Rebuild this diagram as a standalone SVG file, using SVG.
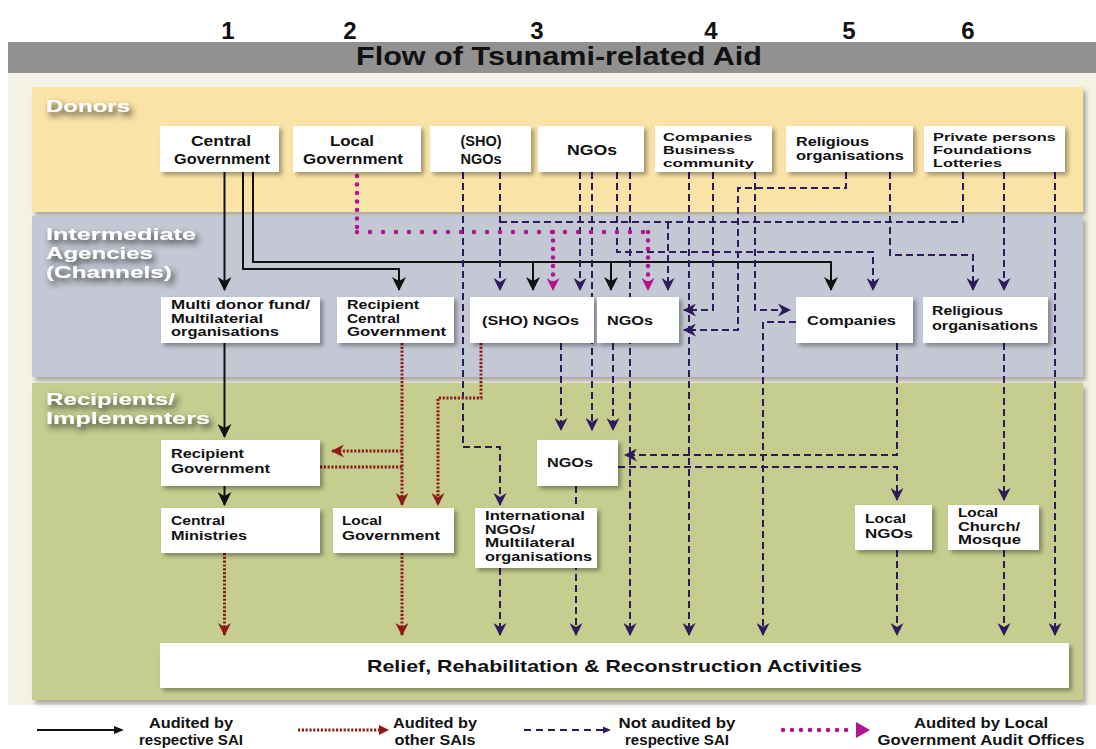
<svg xmlns="http://www.w3.org/2000/svg" width="1096" height="749" viewBox="0 0 1096 749">
<style>
.t{font-family:"Liberation Sans",Arial,sans-serif;font-weight:bold;fill:#111;}
.bx{font-size:12px;}
.bs{font-size:11.5px;}
.bl{font-family:"Liberation Sans",Arial,sans-serif;font-weight:bold;font-size:17px;fill:#fff;}
.box{fill:#fff;filter:url(#sh);}
.band{filter:url(#bsh);}
.cb{fill:none;stroke:#111;stroke-width:2;marker-end:url(#ahB);}
.cr{fill:none;stroke:#8c1c1c;stroke-width:3;stroke-dasharray:2.2 1.6;}
.cn{fill:none;stroke:#2e1a5c;stroke-width:2;stroke-dasharray:7 4;}
.cm{fill:none;stroke:#b0168c;stroke-width:4.5;stroke-linecap:round;}
.mh{stroke-dasharray:0 13;}
.mv{stroke-dasharray:0 8.5;}
.lg{font-family:"Liberation Sans",Arial,sans-serif;font-weight:bold;font-size:15px;fill:#111;text-anchor:middle;}
</style>
<defs>
<filter id="sh" x="-10%" y="-10%" width="130%" height="140%"><feDropShadow dx="3" dy="3" stdDeviation="2" flood-color="#000" flood-opacity="0.35"/></filter>
<filter id="bsh" x="-5%" y="-5%" width="110%" height="120%"><feDropShadow dx="3" dy="4" stdDeviation="2" flood-color="#000" flood-opacity="0.3"/></filter>
<filter id="tsh" x="-20%" y="-60%" width="150%" height="240%"><feDropShadow dx="3" dy="4" stdDeviation="3" flood-color="#222" flood-opacity="0.9"/></filter>
<marker id="ahB" viewBox="0 0 14 14" refX="13" refY="7" markerWidth="14" markerHeight="14" orient="auto" markerUnits="userSpaceOnUse"><path d="M0,0 L14,7 L0,14 L4,7 z" fill="#111"/></marker>
<marker id="ahN" viewBox="0 0 13 13" refX="12" refY="6.5" markerWidth="13" markerHeight="13" orient="auto" markerUnits="userSpaceOnUse"><path d="M0,0 L13,6.5 L0,13 L4,6.5 z" fill="#2e1a5c"/></marker>
<marker id="ahR" viewBox="0 0 13 13" refX="12" refY="6.5" markerWidth="13" markerHeight="13" orient="auto" markerUnits="userSpaceOnUse"><path d="M0,0 L13,6.5 L0,13 L4,6.5 z" fill="#8c1c1c"/></marker>
<marker id="ahM" viewBox="0 0 13 13" refX="12" refY="6.5" markerWidth="13" markerHeight="13" orient="auto" markerUnits="userSpaceOnUse"><path d="M0,0 L13,6.5 L0,13 L4,6.5 z" fill="#b0168c"/></marker>
</defs>

<!-- background -->
<rect x="0" y="0" width="1096" height="749" fill="#fff"/>
<rect x="8" y="73" width="1088" height="632" fill="#f4f1e5"/>
<rect x="8" y="42" width="1088" height="31" fill="#919191"/>
<g id="numbers">
<text class="t" x="228" y="39" font-size="24" text-anchor="middle">1</text>
<text class="t" x="350" y="39" font-size="24" text-anchor="middle">2</text>
<text class="t" x="537" y="39" font-size="24" text-anchor="middle">3</text>
<text class="t" x="711" y="39" font-size="24" text-anchor="middle">4</text>
<text class="t" x="849" y="39" font-size="24" text-anchor="middle">5</text>
<text class="t" x="968" y="39" font-size="24" text-anchor="middle">6</text>
</g>
<text id="title" class="t" x="356" y="65" font-size="25" textLength="406" lengthAdjust="spacingAndGlyphs">Flow of Tsunami-related Aid</text>

<!-- bands -->
<g id="bands">
<rect class="band" x="32" y="87" width="1051" height="125" fill="#fae3a7"/>
<rect class="band" x="32" y="216" width="1051" height="161" fill="#c4c8d5"/>
<rect class="band" x="32" y="383" width="1051" height="317" fill="#c5cd8f"/>
<g filter="url(#tsh)">
<text class="bl" x="46" y="112" textLength="84" lengthAdjust="spacingAndGlyphs">Donors</text>
<text class="bl" x="46" y="240" textLength="150" lengthAdjust="spacingAndGlyphs">Intermediate</text>
<text class="bl" x="46" y="259" textLength="107" lengthAdjust="spacingAndGlyphs">Agencies</text>
<text class="bl" x="46" y="278" textLength="126" lengthAdjust="spacingAndGlyphs">(Channels)</text>
<text class="bl" x="46" y="405" textLength="129" lengthAdjust="spacingAndGlyphs">Recipients/</text>
<text class="bl" x="46" y="424" textLength="164" lengthAdjust="spacingAndGlyphs">Implementers</text>
</g>
</g>

<!-- connectors -->
<g id="connectors">
<g id="black">
<path class="cb" d="M224.5,172 V290"/>
<path class="cb" d="M243,172 V269 H399 V290"/>
<path class="cb" d="M253,172 V262 H831 V290"/>
<path class="cb" d="M533,262 V290"/>
<path class="cb" d="M611,262 V290"/>
<path class="cb" d="M224.5,343 V437"/>
<path class="cb" d="M224.5,486 V505"/>
</g>
<g id="navy" marker-end="url(#ahN)">
<path class="cn" d="M463,172 V447 H500 V505"/>
<path class="cn" d="M500,172 V290"/>
<path class="cn" d="M963,172 V222 H500" marker-end="none"/>
<path class="cn" d="M668,222 V290"/>
<path class="cn" d="M580,172 V290"/>
<path class="cn" d="M592,172 V430"/>
<path class="cn" d="M617,172 V252 H873 V290"/>
<path class="cn" d="M630,172 V635"/>
<path class="cn" d="M689,172 V635"/>
<path class="cn" d="M713,172 V310 H684"/>
<path class="cn" d="M846,172 V188 H738 V330 H684"/>
<path class="cn" d="M755,172 V310 H790"/>
<path class="cn" d="M796,322 H763 V635"/>
<path class="cn" d="M890,172 V255 H973 V290"/>
<path class="cn" d="M1004,172 V290"/>
<path class="cn" d="M1055,172 V635"/>
<path class="cn" d="M561,343 V430"/>
<path class="cn" d="M613,343 V430"/>
<path class="cn" d="M897,343 V455 H625"/>
<path class="cn" d="M618,467 H897 V500"/>
<path class="cn" d="M1004,343 V500"/>
<path class="cn" d="M576,486 V635"/>
<path class="cn" d="M500,568 V635"/>
<path class="cn" d="M897,550 V635"/>
<path class="cn" d="M1004,550 V635"/>
</g>
<g id="red" marker-end="url(#ahR)">
<path class="cr" d="M402,343 V505"/>
<path class="cr" d="M402,451 H332"/>
<path class="cr" d="M320,467 H402" marker-end="none"/>
<path class="cr" d="M481,343 V398 H438 V505"/>
<path class="cr" d="M224.5,553 V635"/>
<path class="cr" d="M402,553 V635"/>
</g>
<g id="magenta">
<path class="cm mv" d="M357,176 V232"/>
<path class="cm mh" d="M357,232 H648"/>
<path class="cm mv" d="M553,232 V290" marker-end="url(#ahM)"/>
<path class="cm mv" d="M648,232 V290" marker-end="url(#ahM)"/>
</g>
</g>

<!-- donor nodes -->
<g id="d-central-gov"><rect class="box" x="160" y="126" width="119" height="46"/>
<text class="t" x="191" y="146" font-size="14.5" textLength="60" lengthAdjust="spacingAndGlyphs">Central</text>
<text class="t" x="174" y="164" font-size="14.5" textLength="96" lengthAdjust="spacingAndGlyphs">Government</text></g>
<g id="d-local-gov"><rect class="box" x="293" y="126" width="128" height="46"/>
<text class="t" x="330" y="146" font-size="14.5" textLength="44" lengthAdjust="spacingAndGlyphs">Local</text>
<text class="t" x="303" y="164" font-size="14.5" textLength="100" lengthAdjust="spacingAndGlyphs">Government</text></g>
<g id="d-sho-ngos"><rect class="box" x="430" y="126" width="101" height="46"/>
<text class="t" x="481" y="146" font-size="14.5" text-anchor="middle">(SHO)</text>
<text class="t" x="481" y="164" font-size="14.5" text-anchor="middle">NGOs</text></g>
<g id="d-ngos"><rect class="box" x="538" y="126" width="106" height="46"/>
<text class="t" x="567" y="155" font-size="15.5" textLength="50" lengthAdjust="spacingAndGlyphs">NGOs</text></g>
<g id="d-companies"><rect class="box" x="655" y="126" width="117" height="46"/>
<text class="t bs" x="663" y="141" textLength="89.5" lengthAdjust="spacingAndGlyphs">Companies</text>
<text class="t bs" x="663" y="154" textLength="72" lengthAdjust="spacingAndGlyphs">Business</text>
<text class="t bs" x="663" y="167" textLength="91" lengthAdjust="spacingAndGlyphs">community</text></g>
<g id="d-religious"><rect class="box" x="786" y="126" width="127" height="46"/>
<text class="t bx" x="796" y="146" textLength="73" lengthAdjust="spacingAndGlyphs">Religious</text>
<text class="t bx" x="796" y="160" textLength="108" lengthAdjust="spacingAndGlyphs">organisations</text></g>
<g id="d-private"><rect class="box" x="924" y="126" width="141" height="46"/>
<text class="t bs" x="933" y="141" textLength="123" lengthAdjust="spacingAndGlyphs">Private persons</text>
<text class="t bs" x="933" y="154" textLength="99" lengthAdjust="spacingAndGlyphs">Foundations</text>
<text class="t bs" x="933" y="167" textLength="69" lengthAdjust="spacingAndGlyphs">Lotteries</text></g>

<!-- intermediate nodes -->
<g id="i-multi"><rect class="box" x="161" y="297" width="159" height="46"/>
<text class="t bx" x="171" y="309" textLength="139" lengthAdjust="spacingAndGlyphs">Multi donor fund/</text>
<text class="t bx" x="171" y="322.5" textLength="92" lengthAdjust="spacingAndGlyphs">Multilaterial</text>
<text class="t bx" x="171" y="336" textLength="108" lengthAdjust="spacingAndGlyphs">organisations</text></g>
<g id="i-recip-central"><rect class="box" x="337" y="297" width="117" height="46"/>
<text class="t bx" x="347" y="309" textLength="72" lengthAdjust="spacingAndGlyphs">Recipient</text>
<text class="t bx" x="347" y="322.5" textLength="53" lengthAdjust="spacingAndGlyphs">Central</text>
<text class="t bx" x="347" y="336" textLength="99" lengthAdjust="spacingAndGlyphs">Government</text></g>
<g id="i-sho-ngos"><rect class="box" x="470" y="297" width="124" height="46"/>
<text class="t" x="482" y="325" font-size="13" textLength="97" lengthAdjust="spacingAndGlyphs">(SHO) NGOs</text></g>
<g id="i-ngos"><rect class="box" x="597" y="297" width="82" height="46"/>
<text class="t" x="607" y="325" font-size="13" textLength="46" lengthAdjust="spacingAndGlyphs">NGOs</text></g>
<g id="i-companies"><rect class="box" x="796" y="297" width="117" height="46"/>
<text class="t" x="807" y="325" font-size="13" textLength="89" lengthAdjust="spacingAndGlyphs">Companies</text></g>
<g id="i-religious"><rect class="box" x="923" y="297" width="125" height="46"/>
<text class="t bx" x="932" y="315" textLength="71" lengthAdjust="spacingAndGlyphs">Religious</text>
<text class="t bx" x="932" y="330" textLength="106" lengthAdjust="spacingAndGlyphs">organisations</text></g>

<!-- recipient nodes -->
<g id="r-recip-gov"><rect class="box" x="161" y="440" width="159" height="46"/>
<text class="t bx" x="171" y="458" textLength="73" lengthAdjust="spacingAndGlyphs">Recipient</text>
<text class="t bx" x="171" y="472.5" textLength="99" lengthAdjust="spacingAndGlyphs">Government</text></g>
<g id="r-central-min"><rect class="box" x="161" y="508" width="159" height="45"/>
<text class="t bx" x="171" y="525" textLength="54" lengthAdjust="spacingAndGlyphs">Central</text>
<text class="t bx" x="171" y="539.5" textLength="76" lengthAdjust="spacingAndGlyphs">Ministries</text></g>
<g id="r-local-gov"><rect class="box" x="333" y="508" width="121" height="45"/>
<text class="t bx" x="342" y="525" textLength="40" lengthAdjust="spacingAndGlyphs">Local</text>
<text class="t bx" x="342" y="539.5" textLength="98" lengthAdjust="spacingAndGlyphs">Government</text></g>
<g id="r-ngos"><rect class="box" x="537" y="440" width="81" height="46"/>
<text class="t" x="547" y="467" font-size="13" textLength="46" lengthAdjust="spacingAndGlyphs">NGOs</text></g>
<g id="r-intl"><rect class="box" x="475" y="508" width="122" height="60"/>
<text class="t bx" x="485" y="520" textLength="100" lengthAdjust="spacingAndGlyphs">International</text>
<text class="t bx" x="485" y="533.5" textLength="50" lengthAdjust="spacingAndGlyphs">NGOs/</text>
<text class="t bx" x="485" y="547" textLength="90" lengthAdjust="spacingAndGlyphs">Multilateral</text>
<text class="t bx" x="485" y="560.5" textLength="107" lengthAdjust="spacingAndGlyphs">organisations</text></g>
<g id="r-local-ngos"><rect class="box" x="855" y="505" width="77" height="45"/>
<text class="t bx" x="865" y="523" textLength="41" lengthAdjust="spacingAndGlyphs">Local</text>
<text class="t bx" x="865" y="537.5" textLength="48" lengthAdjust="spacingAndGlyphs">NGOs</text></g>
<g id="r-local-church"><rect class="box" x="948" y="505" width="91" height="45"/>
<text class="t bx" x="958" y="517" textLength="40" lengthAdjust="spacingAndGlyphs">Local</text>
<text class="t bx" x="958" y="530.5" textLength="62" lengthAdjust="spacingAndGlyphs">Church/</text>
<text class="t bx" x="958" y="544" textLength="63" lengthAdjust="spacingAndGlyphs">Mosque</text></g>
<g id="relief"><rect class="box" x="160" y="643" width="909" height="45"/>
<text class="t" x="367" y="672" font-size="17" textLength="495" lengthAdjust="spacingAndGlyphs">Relief, Rehabilitation &amp; Reconstruction Activities</text></g>

<!-- legend -->
<g id="legend">
<path d="M37,730 H116" stroke="#111" stroke-width="2"/>
<path d="M114,726 L124,730 L114,734 z" fill="#111"/>
<text class="lg" x="191" y="728" textLength="84" lengthAdjust="spacingAndGlyphs">Audited by</text>
<text class="lg" x="191" y="745" textLength="104" lengthAdjust="spacingAndGlyphs">respective SAI</text>
<path d="M298,730 H380" stroke="#8c1c1c" stroke-width="3" stroke-dasharray="2.2 1.6"/>
<path d="M379,725 L389,730 L379,735 z" fill="#8c1c1c"/>
<text class="lg" x="435" y="728" textLength="84" lengthAdjust="spacingAndGlyphs">Audited by</text>
<text class="lg" x="435" y="745" textLength="81" lengthAdjust="spacingAndGlyphs">other SAIs</text>
<path d="M524,730 H604" stroke="#2e1a5c" stroke-width="2" stroke-dasharray="7 5"/>
<path d="M603,726.5 L611,730 L603,733.5 z" fill="#2e1a5c"/>
<text class="lg" x="677" y="728" textLength="117" lengthAdjust="spacingAndGlyphs">Not audited by</text>
<text class="lg" x="677" y="745" textLength="104" lengthAdjust="spacingAndGlyphs">respective SAI</text>
<path d="M783,730 H852" stroke="#b0168c" stroke-width="4.5" stroke-linecap="round" stroke-dasharray="0 9"/>
<path d="M856,722 L870,730 L856,738 z" fill="#b0168c"/>
<text class="lg" x="981" y="728" textLength="134" lengthAdjust="spacingAndGlyphs">Audited by Local</text>
<text class="lg" x="981" y="745" textLength="207" lengthAdjust="spacingAndGlyphs">Government Audit Offices</text>
</g>
</svg>
